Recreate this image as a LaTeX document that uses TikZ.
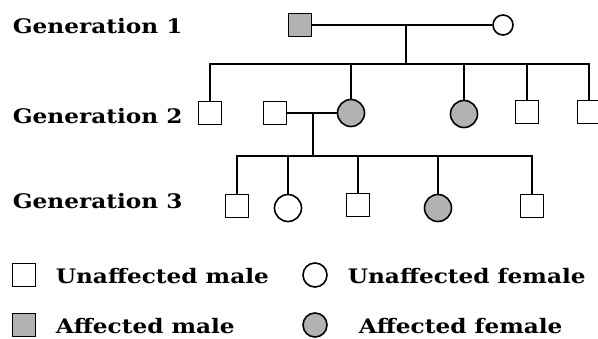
\documentclass[tikz,border=0pt]{standalone}
\usepackage{fontspec}
\setmainfont[FakeStretch=1.16]{DejaVu Serif}
\begin{document}
\begin{tikzpicture}[x=1pt,y=-1pt,
  line width=1.8pt,
  lbl/.style={anchor=west,inner sep=0,font=\bfseries\fontsize{20}{24}\selectfont},
  male/.style={draw,rectangle,line width=1.6pt,minimum size=23pt,inner sep=0},
  fem/.style={draw,circle,line width=1.6pt,minimum size=27pt,inner sep=0},
  aff/.style={fill=gray!60}]
\useasboundingbox (0,0) rectangle (598,338);
\clip (0,0) rectangle (598,338);
% labels
\node[lbl] (gl1) at (12,26) {Generation 1};
\node[lbl] (gl2) at (12,116) {Generation 2};
\node[lbl] (gl3) at (12,201) {Generation 3};
% generation 1
\node[male,aff] (g1m) at (300,25) {};
\node[fem,minimum size=20pt] (g1f) at (503,25) {};
\coordinate (c1) at (406,25);
\coordinate (bar1) at (0,64);
\draw (g1m) -- (g1f);
\draw (c1) -- (c1|-bar1);
% generation 2
\node[male] (g2a) at (210,113) {};
\node[male] (g2b) at (275,113) {};
\node[fem,aff] (g2c) at (351,113) {};
\node[fem,aff] (g2d) at (464,114) {};
\node[male] (g2e) at (527,112) {};
\node[male] (g2f) at (589,112) {};
\draw (g2a.north) -- (g2a.north|-bar1) -- (g2f.north|-bar1) -- (g2f.north);
\foreach \n in {g2c,g2d,g2e} \draw (\n.north) -- (\n.north|-bar1);
\coordinate (c2) at (313,113);
\coordinate (bar2) at (0,156);
\draw (g2b) -- (g2c);
\draw (c2) -- (c2|-bar2);
% generation 3
\node[male] (g3a) at (237,206) {};
\node[fem] (g3b) at (288,208) {};
\node[male] (g3c) at (358,205) {};
\node[fem,aff] (g3d) at (438,208) {};
\node[male] (g3e) at (532,206) {};
\draw (g3a.north) -- (g3a.north|-bar2) -- (g3e.north|-bar2) -- (g3e.north);
\foreach \n in {g3b,g3c,g3d} \draw (\n.north) -- (\n.north|-bar2);
% legend
\node[male,minimum size=23pt] (l1) at (24,275) {};
\node[lbl] (t1) at (55,276) {Unaffected male};
\node[fem,minimum size=24pt] (l2) at (315,275) {};
\node[lbl] (t2) at (347,276) {Unaffected female};
\node[male,aff,minimum size=23pt] (l3) at (24,325) {};
\node[lbl] (t3) at (55,326) {Affected male};
\node[fem,aff,minimum size=24pt] (l4) at (315,325) {};
\node[lbl] (t4) at (358,326) {Affected female};
\end{tikzpicture}
\end{document}
